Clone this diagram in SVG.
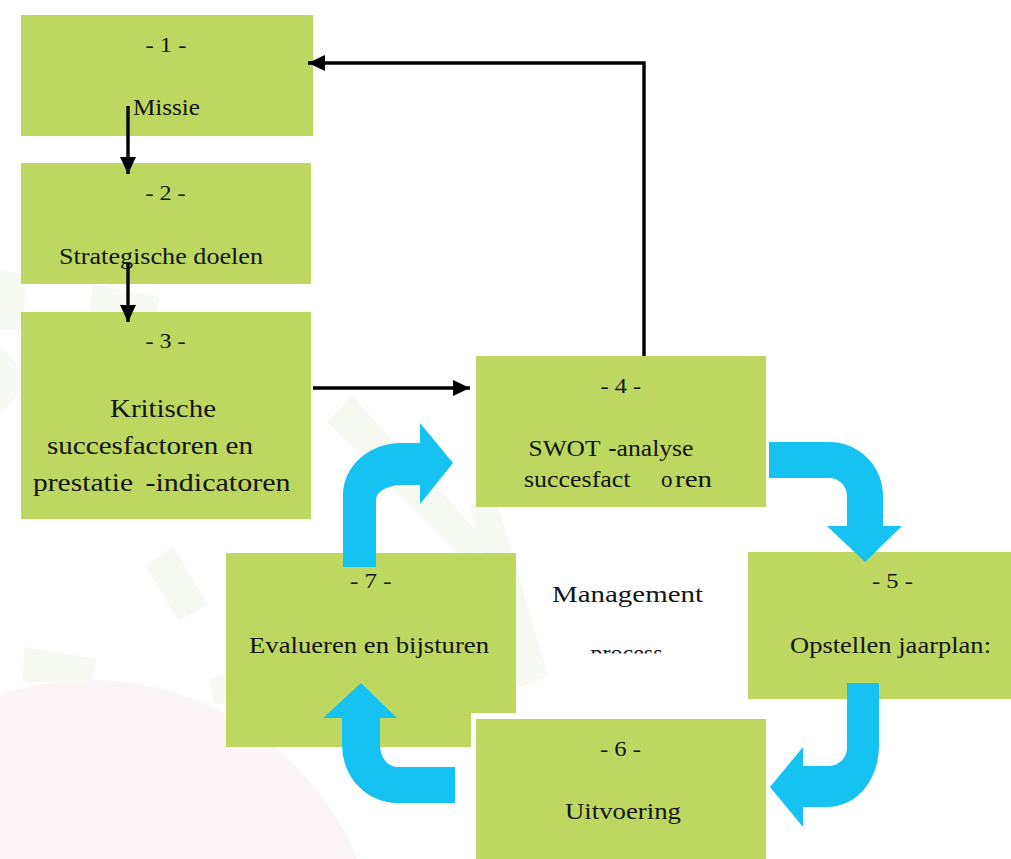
<svg xmlns="http://www.w3.org/2000/svg" width="1011" height="859" viewBox="0 0 1011 859">
  <style>
    .box { fill: #BDD760; }
    .lbl { font-family: "Liberation Serif", "Times New Roman", serif; font-size: 21px; fill: #141414; }
    .txt { font-family: "Liberation Serif", "Times New Roman", serif; font-size: 23px; fill: #141414; }
    .big { font-family: "Liberation Serif", "Times New Roman", serif; font-size: 26px; fill: #141414; }
    .conn { fill: none; stroke: #000; stroke-width: 3.4; }
    .flow { fill: #16C2F2; }
    .faint { fill: #F7FAF3; }
  </style>
  <defs>
    <marker id="ah" markerUnits="userSpaceOnUse" markerWidth="18" markerHeight="16" refX="17" refY="8" orient="auto">
      <path d="M0,0 L17,8 L0,16 Z" fill="#000"/>
    </marker>
    <clipPath id="procClip">
      <rect x="580" y="640" width="100" height="13.5"/>
    </clipPath>
  </defs>
  <rect width="1011" height="859" fill="#FFFFFF"/>
  <g id="background">
    <circle cx="90" cy="969" r="289" fill="#FCF5F7"/>
    <polygon class="faint" points="0,270 26,274 23,330 0,330"/>
    <polygon class="faint" points="92,284 160,297 152,330 88,330"/>
    <polygon class="faint" points="0,345 30,380 0,415"/>
    <polygon class="faint" points="327,422 352,396 490,545 466,562"/>
    <polygon class="faint" points="470,505 495,495 548,676 518,688"/>
    <polygon class="faint" points="145,565 173,547 208,605 179,621"/>
    <polygon class="faint" points="24,647 97,659 90,683 23,682"/>
    <polygon class="faint" points="209,680 235,670 240,700 215,705"/>
  </g>
  <g id="node1">
    <rect class="box" x="21" y="15" width="292" height="121"/>
    <text class="lbl" x="145.5" y="52" textLength="41" lengthAdjust="spacingAndGlyphs">- 1 -</text>
    <text class="txt" x="133" y="115" textLength="67" lengthAdjust="spacingAndGlyphs">Missie</text>
  </g>
  <g id="node2">
    <rect class="box" x="21" y="163" width="290" height="121"/>
    <text class="lbl" x="145.5" y="200" textLength="40" lengthAdjust="spacingAndGlyphs">- 2 -</text>
    <text class="txt" x="59" y="264" textLength="204" lengthAdjust="spacingAndGlyphs">Strategische doelen</text>
  </g>
  <g id="node3">
    <rect class="box" x="21" y="312" width="290" height="207"/>
    <text class="lbl" x="145.5" y="347.5" textLength="40" lengthAdjust="spacingAndGlyphs">- 3 -</text>
    <text class="big" x="110" y="416.5" textLength="106" lengthAdjust="spacingAndGlyphs">Kritische</text>
    <text class="big" x="47" y="453.5" textLength="206" lengthAdjust="spacingAndGlyphs">succesfactoren en</text>
    <text class="big" x="33" y="491" textLength="100" lengthAdjust="spacingAndGlyphs">prestatie</text>
    <text class="big" x="145.5" y="491" textLength="145" lengthAdjust="spacingAndGlyphs">-indicatoren</text>
  </g>
  <g id="node4">
    <rect class="box" x="476" y="356" width="290" height="151"/>
    <text class="lbl" x="600.5" y="392.5" textLength="40.5" lengthAdjust="spacingAndGlyphs">- 4 -</text>
    <text class="txt" x="528.5" y="455.5" textLength="72" lengthAdjust="spacingAndGlyphs">SWOT</text>
    <text class="txt" x="608.5" y="455.5" font-weight="bold" textLength="8" lengthAdjust="spacingAndGlyphs">-</text>
    <text class="txt" x="616.5" y="455.5" textLength="77" lengthAdjust="spacingAndGlyphs">analyse</text>
    <text class="txt" x="524" y="486.5" textLength="106.5" lengthAdjust="spacingAndGlyphs">succesfact</text>
    <text class="txt" x="661" y="486.5" textLength="11.5" lengthAdjust="spacingAndGlyphs">o</text>
    <text class="txt" x="675" y="486.5" textLength="37" lengthAdjust="spacingAndGlyphs">ren</text>
  </g>
  <g id="node5">
    <rect class="box" x="748" y="552" width="263" height="147"/>
    <text class="lbl" x="872" y="588" textLength="41" lengthAdjust="spacingAndGlyphs">- 5 -</text>
    <text class="txt" x="790" y="653" textLength="201" lengthAdjust="spacingAndGlyphs">Opstellen jaarplan:</text>
  </g>
  <g id="node7">
    <rect class="box" x="226" y="553" width="290" height="194"/>
    <text class="lbl" x="350" y="588" textLength="41.5" lengthAdjust="spacingAndGlyphs">- 7 -</text>
    <text class="txt" x="249" y="653" textLength="240" lengthAdjust="spacingAndGlyphs">Evalueren en bijsturen</text>
  </g>
  <g id="node6">
    <rect x="471" y="713" width="300" height="150" fill="#FFFFFF"/>
    <rect class="box" x="476" y="719" width="290" height="140"/>
    <text class="lbl" x="600" y="756" textLength="41" lengthAdjust="spacingAndGlyphs">- 6 -</text>
    <text class="txt" x="565" y="819" textLength="116" lengthAdjust="spacingAndGlyphs">Uitvoering</text>
  </g>
  <g id="center-label">
    <text class="txt" x="552" y="601.5" font-size="24" textLength="151" lengthAdjust="spacingAndGlyphs">Management</text>
    <text class="txt" x="590.5" y="661" font-size="24" textLength="72" lengthAdjust="spacingAndGlyphs" clip-path="url(#procClip)">process</text>
  </g>
  <g id="connectors">
    <path class="conn" d="M128,106 V174" marker-end="url(#ah)"/>
    <path class="conn" d="M128,262 V322" marker-end="url(#ah)"/>
    <path class="conn" d="M313,388 H470" marker-end="url(#ah)"/>
    <path class="conn" d="M644,356 V63 H308" marker-end="url(#ah)"/>
    <path class="flow" d="M769,442 H829 A54,54 0 0 1 883,496 V526 H902 L865,562 L827,526 H847 V496 A18,18 0 0 0 829,478 H769 Z"/>
    <path class="flow" d="M847,683 H879 V746 A51,61 0 0 1 828,807 H803 V827 L770,787 L803,747 V766 H828 A19,18 0 0 0 847,748 Z"/>
    <path class="flow" d="M455,767 V803 H397 A55,58 0 0 1 342,745 V718 H323 L361,683 L397,718 H380 V745 A17,22 0 0 0 397,767 Z"/>
    <path class="flow" d="M343,567 V495 A58,52 0 0 1 401,443 H420 V423 L453,463 L420,504 V485 H401 A25,15 0 0 0 376,500 V567 Z"/>
  </g>
</svg>
